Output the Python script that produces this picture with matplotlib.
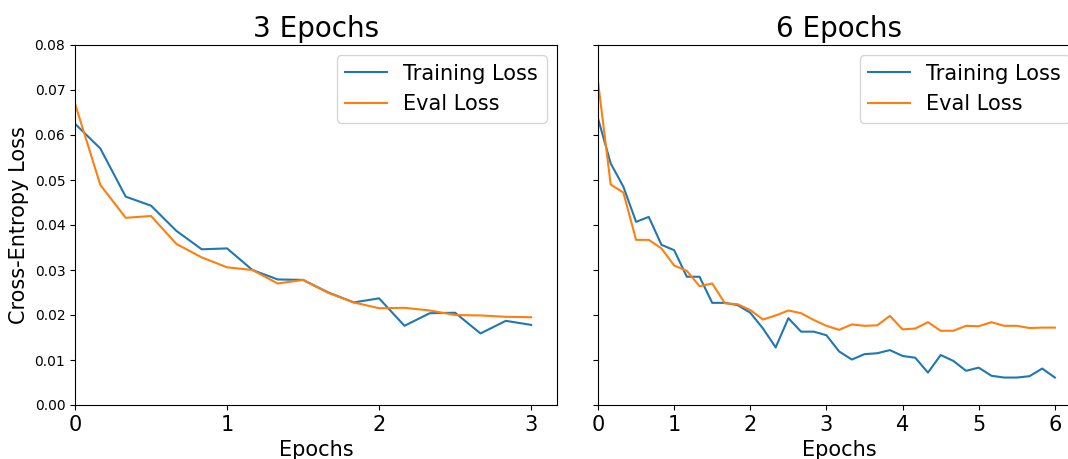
import matplotlib.pyplot as plt

# x positions: logged every 1/6 epoch
x3 = [i / 6 for i in range(19)]
x6 = [i / 6 for i in range(37)]

# 3 epoch run
train3 = [0.0625, 0.0570, 0.0463, 0.0443, 0.0387, 0.0346, 0.0348, 0.0300, 0.0279, 0.0278,
          0.0250, 0.0228, 0.0237, 0.0176, 0.0204, 0.0205, 0.0159, 0.0187, 0.0178]
eval3 = [0.0670, 0.0489, 0.0416, 0.0420, 0.0358, 0.0328, 0.0306, 0.0300, 0.0270, 0.0278,
         0.0249, 0.0228, 0.0215, 0.0216, 0.0210, 0.0200, 0.0199, 0.0196, 0.0195]

# 6 epoch run
train6 = [0.0637, 0.0537, 0.0485, 0.0407, 0.0418, 0.0356, 0.0344, 0.0285, 0.0285, 0.0227,
          0.0227, 0.0222, 0.0205, 0.0170, 0.0128, 0.0193, 0.0163, 0.0163, 0.0155, 0.0119,
          0.0101, 0.0113, 0.0115, 0.0122, 0.0109, 0.0105, 0.0072, 0.0111, 0.0098, 0.0076,
          0.0083, 0.0065, 0.0061, 0.0061, 0.0064, 0.0081, 0.0061]
eval6 = [0.0719, 0.0490, 0.0472, 0.0367, 0.0367, 0.0348, 0.0310, 0.0298, 0.0264, 0.0270,
         0.0226, 0.0224, 0.0211, 0.0190, 0.0199, 0.0210, 0.0204, 0.0189, 0.0176, 0.0167,
         0.0179, 0.0176, 0.0177, 0.0198, 0.0168, 0.0170, 0.0184, 0.0165, 0.0165, 0.0176,
         0.0175, 0.0184, 0.0176, 0.0176, 0.0171, 0.0172, 0.0172]

fig = plt.figure(figsize=(10.68, 4.59), dpi=100)
W, H = 1068, 459
ax1 = fig.add_axes([75 / W, 54 / H, 482 / W, 360 / H])
ax2 = fig.add_axes([598 / W, 54 / H, 482 / W, 360 / H], sharey=ax1)

ax1.plot(x3, train3, label="Training Loss")
ax1.plot(x3, eval3, label="Eval Loss")
ax1.set_title("3 Epochs", fontsize=20)
ax1.set_xlim(0, 3.17)
ax1.set_ylim(0, 0.08)
ax1.set_xticks([0, 1, 2, 3])
ax1.tick_params(axis="x", labelsize=15)
ax1.set_xlabel("Epochs", fontsize=15)
ax1.set_ylabel("Cross-Entropy Loss", fontsize=15)
ax1.legend(loc="upper right", fontsize=15)

ax2.plot(x6, train6, label="Training Loss")
ax2.plot(x6, eval6, label="Eval Loss")
ax2.set_title("6 Epochs", fontsize=20)
ax2.set_xlim(0, 6.33)
ax2.set_xticks([0, 1, 2, 3, 4, 5, 6])
ax2.tick_params(axis="x", labelsize=15)
ax2.tick_params(axis="y", labelleft=False)
ax2.set_xlabel("Epochs", fontsize=15)
ax2.legend(loc="upper right", fontsize=15)

fig.savefig("out.png", dpi=100)
